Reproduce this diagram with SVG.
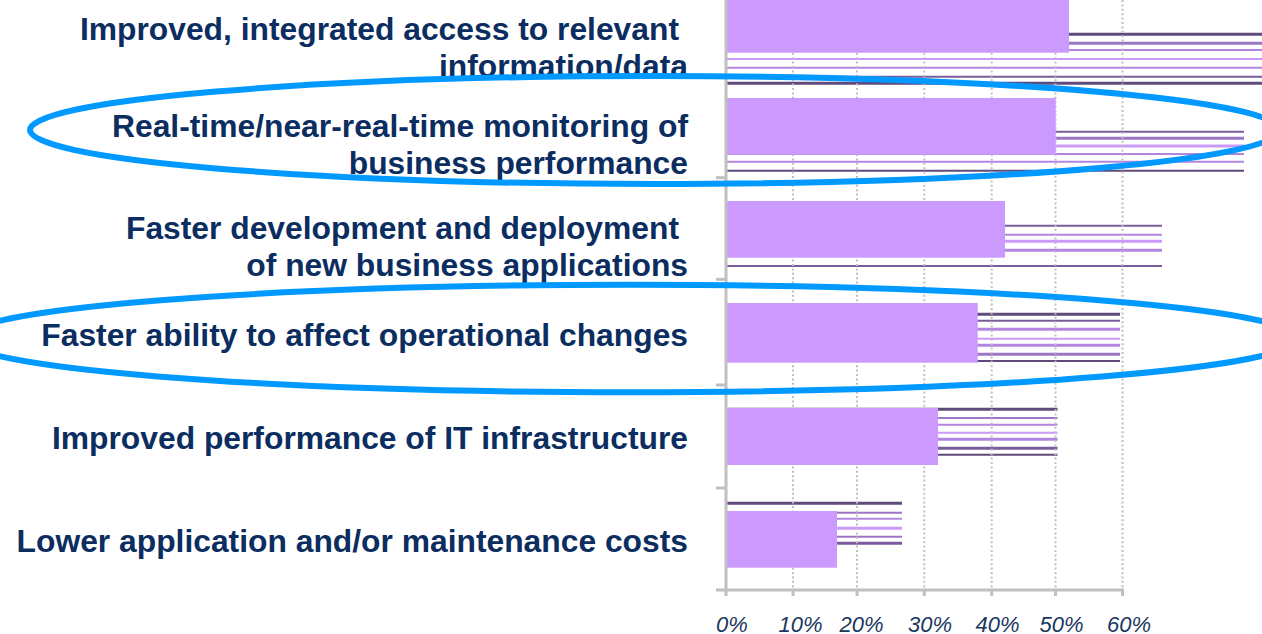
<svg xmlns="http://www.w3.org/2000/svg" width="1262" height="634" viewBox="0 0 1262 634">
<style>
.lbl{font-family:"Liberation Sans",Arial,sans-serif;font-weight:bold;font-size:31.8px;fill:#0b2d5f;text-anchor:end}
.pct{font-family:"Liberation Sans",Arial,sans-serif;font-style:italic;font-size:22px;fill:#17375e;text-anchor:middle}
.grid{stroke:#c0c0c0;stroke-width:2;stroke-dasharray:2 2.4}
.axis{stroke:#c0c0c0;stroke-width:3;fill:none}
.bar{fill:#cc99ff}
.d{stroke:#5f4a7b}
.dm{stroke:#7a5c9c}
.m{stroke:#9c76c6}
.lm{stroke:#b286e0}
.l{stroke:#c99af8}
.w2{stroke-width:2}
.w3{stroke-width:3}
.ring{fill:none;stroke:#0099ff;stroke-width:6}
</style>
<rect width="1262" height="634" fill="#ffffff"/>
<g id="hatch-series">
  <g id="hatch-1">
    <line x1="727" x2="1262" y1="34.3" y2="34.3" class="d w3"/>
    <line x1="727" x2="1262" y1="43.3" y2="43.3" class="m w3"/>
    <line x1="727" x2="1262" y1="50" y2="50" class="lm w2"/>
    <line x1="727" x2="1262" y1="59" y2="59" class="l w2"/>
    <line x1="727" x2="1262" y1="67.7" y2="67.7" class="lm w2"/>
    <line x1="727" x2="1262" y1="76.7" y2="76.7" class="dm w2"/>
    <line x1="727" x2="1262" y1="83.3" y2="83.3" class="d w3"/>
  </g>
  <g id="hatch-2">
    <line x1="727" x2="1244" y1="131.7" y2="131.7" class="dm w2"/>
    <line x1="727" x2="1244" y1="138.3" y2="138.3" class="m w3"/>
    <line x1="727" x2="1244" y1="146" y2="146" class="l w3"/>
    <line x1="727" x2="1244" y1="154" y2="154" class="lm w2"/>
    <line x1="727" x2="1244" y1="161.7" y2="161.7" class="lm w2"/>
    <line x1="727" x2="1244" y1="170.7" y2="170.7" class="d w2"/>
  </g>
  <g id="hatch-3">
    <line x1="727" x2="1162" y1="225.7" y2="225.7" class="dm w2"/>
    <line x1="727" x2="1162" y1="234.7" y2="234.7" class="lm w2"/>
    <line x1="727" x2="1162" y1="241.3" y2="241.3" class="l w3"/>
    <line x1="727" x2="1162" y1="250.3" y2="250.3" class="lm w3"/>
    <line x1="727" x2="1162" y1="266" y2="266" class="dm w2"/>
  </g>
  <g id="hatch-4">
    <line x1="727" x2="1120" y1="314.3" y2="314.3" class="d w3"/>
    <line x1="727" x2="1120" y1="320.7" y2="320.7" class="dm w2"/>
    <line x1="727" x2="1120" y1="329.3" y2="329.3" class="lm w3"/>
    <line x1="727" x2="1120" y1="338.7" y2="338.7" class="l w2"/>
    <line x1="727" x2="1120" y1="345.3" y2="345.3" class="lm w3"/>
    <line x1="727" x2="1120" y1="354.3" y2="354.3" class="m w3"/>
    <line x1="727" x2="1120" y1="361" y2="361" class="d w2"/>
  </g>
  <g id="hatch-5">
    <line x1="727" x2="1057.5" y1="409.3" y2="409.3" class="d w3"/>
    <line x1="727" x2="1057.5" y1="418" y2="418" class="m w2"/>
    <line x1="727" x2="1057.5" y1="424.7" y2="424.7" class="lm w2"/>
    <line x1="727" x2="1057.5" y1="432.7" y2="432.7" class="l w2"/>
    <line x1="727" x2="1057.5" y1="439.3" y2="439.3" class="lm w3"/>
    <line x1="727" x2="1057.5" y1="448.3" y2="448.3" class="dm w3"/>
    <line x1="727" x2="1057.5" y1="454.7" y2="454.7" class="d w2"/>
  </g>
  <g id="hatch-6">
    <line x1="727" x2="902" y1="503.3" y2="503.3" class="d w3"/>
    <line x1="727" x2="902" y1="512.7" y2="512.7" class="m w2"/>
    <line x1="727" x2="902" y1="518.7" y2="518.7" class="lm w2"/>
    <line x1="727" x2="902" y1="528.3" y2="528.3" class="l w3"/>
    <line x1="727" x2="902" y1="536.7" y2="536.7" class="m w2"/>
    <line x1="727" x2="902" y1="543.3" y2="543.3" class="dm w3"/>
  </g>
</g>
<g id="gridlines">
  <line x1="793" x2="793" y1="0" y2="589" class="grid"/>
  <line x1="857" x2="857" y1="0" y2="589" class="grid"/>
  <line x1="924.3" x2="924.3" y1="0" y2="589" class="grid"/>
  <line x1="991.7" x2="991.7" y1="0" y2="589" class="grid"/>
  <line x1="1055.5" x2="1055.5" y1="0" y2="589" class="grid"/>
  <line x1="1122.5" x2="1122.5" y1="0" y2="589" class="grid"/>
</g>
<g id="bars">
  <rect id="bar-1" class="bar" x="727" y="-4" width="342" height="56.7"/>
  <rect id="bar-2" class="bar" x="727" y="98" width="328.7" height="56.7"/>
  <rect id="bar-3" class="bar" x="727" y="201" width="278" height="56.7"/>
  <rect id="bar-4" class="bar" x="727" y="303" width="250.7" height="59.7"/>
  <rect id="bar-5" class="bar" x="727" y="408" width="211" height="57"/>
  <rect id="bar-6" class="bar" x="727" y="511" width="110" height="56.7"/>
</g>
<g id="axes">
  <line x1="726" x2="726" y1="0" y2="596" class="axis"/>
  <line x1="716" x2="1124" y1="590" y2="590" class="axis"/>
  <line x1="716" x2="726" y1="177.7" y2="177.7" class="axis"/>
  <line x1="716" x2="726" y1="279.3" y2="279.3" class="axis"/>
  <line x1="716" x2="726" y1="385" y2="385" class="axis"/>
  <line x1="716" x2="726" y1="488" y2="488" class="axis"/>
  <line x1="793" x2="793" y1="590" y2="596" class="axis"/>
  <line x1="857" x2="857" y1="590" y2="596" class="axis"/>
  <line x1="924.3" x2="924.3" y1="590" y2="596" class="axis"/>
  <line x1="991.7" x2="991.7" y1="590" y2="596" class="axis"/>
  <line x1="1055.5" x2="1055.5" y1="590" y2="596" class="axis"/>
  <line x1="1122.5" x2="1122.5" y1="590" y2="596" class="axis"/>
</g>
<g id="axis-labels">
  <text class="pct" x="732" y="631.5">0%</text>
  <text class="pct" x="800.5" y="631.5">10%</text>
  <text class="pct" x="861.5" y="631.5">20%</text>
  <text class="pct" x="930" y="631.5">30%</text>
  <text class="pct" x="997.5" y="631.5">40%</text>
  <text class="pct" x="1061.5" y="631.5">50%</text>
  <text class="pct" x="1129" y="631.5">60%</text>
</g>
<g id="cat-1"><text class="lbl" x="679" y="39.5">Improved, integrated access to relevant</text><text class="lbl" x="688" y="76.5">information/data</text></g>
<g id="cat-2"><text class="lbl" x="688" y="136.5">Real-time/near-real-time monitoring of</text><text class="lbl" x="688" y="173.5">business performance</text></g>
<g id="cat-3"><text class="lbl" x="679" y="238.5">Faster development and deployment</text><text class="lbl" x="688" y="275.5">of new business applications</text></g>
<g id="cat-4"><text class="lbl" x="688" y="345.5">Faster ability to affect operational changes</text></g>
<g id="cat-5"><text class="lbl" x="688" y="449">Improved performance of IT infrastructure</text></g>
<g id="cat-6"><text class="lbl" x="688" y="552">Lower application and/or maintenance costs</text></g>
<g id="highlights">
  <ellipse id="ring-1" class="ring" cx="655" cy="130" rx="625" ry="54"/>
  <ellipse id="ring-2" class="ring" cx="630" cy="338.5" rx="668" ry="53.7"/>
</g>
</svg>
